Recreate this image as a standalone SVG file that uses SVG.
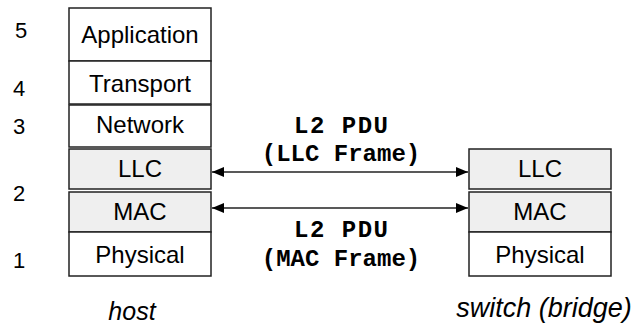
<svg xmlns="http://www.w3.org/2000/svg" width="637" height="326" viewBox="0 0 637 326">
<style>
.box{fill:#ffffff;stroke:#222;stroke-width:1.5}
.gray{fill:#efefef;stroke:#222;stroke-width:1.5}
.lbl{font-family:"Liberation Sans",Arial,sans-serif;font-size:24px;fill:#000;text-anchor:middle}
.num{font-family:"Liberation Sans",Arial,sans-serif;font-size:22px;fill:#000;text-anchor:middle}
.cap{font-family:"Liberation Sans",Arial,sans-serif;font-size:25px;font-style:italic;fill:#000;text-anchor:middle}
.pdu{font-family:"Liberation Mono","Courier New",monospace;font-size:24px;font-weight:bold;fill:#000;text-anchor:middle}
.conn{stroke:#222;stroke-width:1.5;fill:none}
</style>
<defs>
<marker id="ah" viewBox="0 0 12 10" refX="12" refY="5" markerWidth="12" markerHeight="10" markerUnits="userSpaceOnUse" orient="auto-start-reverse">
<path d="M0,0 L12,5 L0,10 Z" fill="#000"/>
</marker>
</defs>
<g id="layer-numbers">
<text class="num" x="21" y="38">5</text>
<text class="num" x="19" y="96">4</text>
<text class="num" x="19" y="134">3</text>
<text class="num" x="19" y="201">2</text>
<text class="num" x="19" y="268">1</text>
</g>
<g id="host-application"><rect class="box" x="69" y="8" width="142" height="53"/><text class="lbl" x="140" y="43">Application</text></g>
<g id="host-transport"><rect class="box" x="69" y="61" width="142" height="43"/><text class="lbl" x="140" y="92">Transport</text></g>
<g id="host-network"><rect class="box" x="69" y="105" width="142" height="42"/><text class="lbl" x="140" y="133">Network</text></g>
<g id="host-llc"><rect class="gray" x="69" y="149" width="142" height="40"/><text class="lbl" x="140" y="177">LLC</text></g>
<g id="host-mac"><rect class="gray" x="69" y="192" width="142" height="40"/><text class="lbl" x="140" y="220">MAC</text></g>
<g id="host-physical"><rect class="box" x="69" y="232" width="142" height="44"/><text class="lbl" x="140" y="263">Physical</text></g>
<g id="host-label"><text class="cap" x="132" y="320">host</text></g>
<g id="switch-llc"><rect class="gray" x="469" y="149" width="142" height="40"/><text class="lbl" x="540" y="177">LLC</text></g>
<g id="switch-mac"><rect class="gray" x="469" y="192" width="142" height="40"/><text class="lbl" x="540" y="220">MAC</text></g>
<g id="switch-physical"><rect class="box" x="469" y="232" width="142" height="44"/><text class="lbl" x="540" y="263">Physical</text></g>
<g id="switch-label"><text class="cap" x="544" y="317" style="font-size:27px">switch (bridge)</text></g>
<g id="connectors">
<line class="conn" x1="212" y1="172" x2="468" y2="172" marker-start="url(#ah)" marker-end="url(#ah)"/>
<line class="conn" x1="212" y1="208" x2="468" y2="208" marker-start="url(#ah)" marker-end="url(#ah)"/>
<text class="pdu" x="341" y="133" textLength="94" lengthAdjust="spacing">L2 PDU</text>
<text class="pdu" x="341" y="161">(LLC Frame)</text>
<text class="pdu" x="341" y="237" textLength="94" lengthAdjust="spacing">L2 PDU</text>
<text class="pdu" x="341" y="266">(MAC Frame)</text>
</g>
</svg>
